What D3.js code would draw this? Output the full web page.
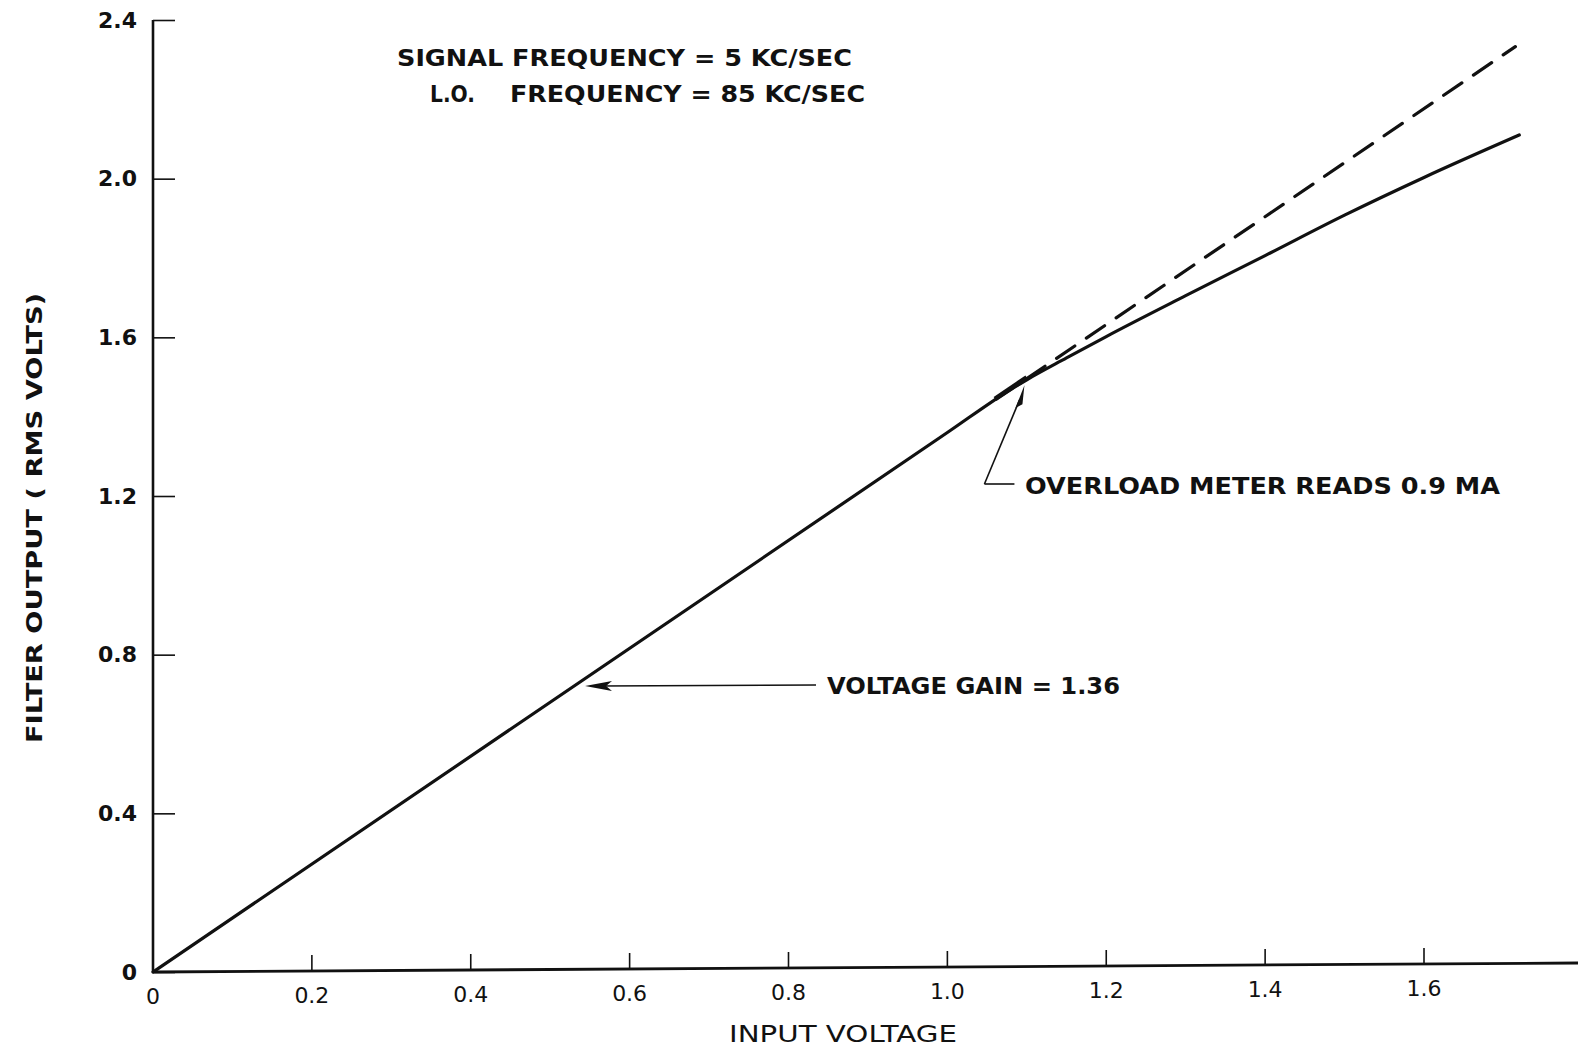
<!DOCTYPE html>
<html>
<head>
<meta charset="utf-8">
<script src="https://cdn.jsdelivr.net/npm/d3@7"></script>
<style>
	body { margin: 0; background: #fff; }
	svg { display: block; }
	text { font-family: "DejaVu Sans", sans-serif; fill: #111; }
</style>
</head>
<body>
<svg id="chart" width="1578" height="1049"></svg>
<script>
// tick values and their labels as printed on the sheet
var xTicks = [0, 0.2, 0.4, 0.6, 0.8, 1.0, 1.2, 1.4, 1.6];
var xTickLabels = ["0", "0.2", "0.4", "0.6", "0.8", "1.0", "1.2", "1.4", "1.6"];
var yTicks = [0, 0.4, 0.8, 1.2, 1.6, 2.0, 2.4];
var yTickLabels = ["0", "0.4", "0.8", "1.2", "1.6", "2.0", "2.4"];

// measured curve (input volts -> rms output volts)
var measuredX = [0, 1.0, 1.08, 1.1, 1.15, 1.2, 1.3, 1.4, 1.5, 1.6, 1.72];
var measuredY = [0, 1.36, 1.469, 1.493, 1.548, 1.602, 1.705, 1.806, 1.908, 2.003, 2.11];

// ideal gain line continuing past overload
var idealX = [1.1, 1.715];
var idealY = [1.496, 2.333];

var svg = d3.select("#chart");

var x = d3.scaleLinear().domain([0, 1.6]).range([153, 1424]);
var y = d3.scaleLinear().domain([0, 2.4]).range([972, 20]);

// the sheet is scanned a little crooked: bottom axis rises to the right
var tilt = 9 / (1578 - 153);

// y axis, ticks pointing inward
var yAxis = d3.axisLeft(y)
	.tickValues(yTicks)
	.tickFormat(function (d, i) { return yTickLabels[i]; })
	.tickSizeInner(-22)
	.tickSizeOuter(0)
	.tickPadding(16);

var gy = svg.append("g")
	.attr("transform", "translate(" + x(0) + ",0)")
	.call(yAxis);
gy.select(".domain").remove();
gy.selectAll(".tick line").style("stroke", "#111").style("stroke-width", 1.6);
gy.selectAll(".tick text")
	.style("font-size", "22px")
	.style("font-weight", "bold")
	.style("font-family", "DejaVu Sans, sans-serif");

// x axis, ticks pointing up
var xAxis = d3.axisBottom(x)
	.tickValues(xTicks)
	.tickFormat(function (d, i) { return xTickLabels[i]; })
	.tickSizeInner(-16)
	.tickSizeOuter(0)
	.tickPadding(16);

var gx = svg.append("g")
	.attr("transform", "translate(0," + y(0) + ")")
	.call(xAxis);
gx.select(".domain").remove();
gx.selectAll(".tick")
	.attr("transform", function (d) {
		return "translate(" + x(d) + "," + (-(x(d) - x(0)) * tilt) + ")";
	});
gx.selectAll(".tick line").style("stroke", "#111").style("stroke-width", 1.6);
gx.selectAll(".tick text")
	.style("font-size", "22px")
	.style("font-family", "DejaVu Sans, sans-serif");
gx.selectAll(".tick").filter(function (d) { return d === 0; }).select("line").remove();

// axis lines
svg.append("line")
	.attr("x1", x(0)).attr("y1", y(0))
	.attr("x2", x(0)).attr("y2", y(2.4))
	.style("stroke", "#111").style("stroke-width", 2.6);
svg.append("line")
	.attr("x1", x(0)).attr("y1", y(0))
	.attr("x2", 1578).attr("y2", y(0) - (1578 - x(0)) * tilt)
	.style("stroke", "#111").style("stroke-width", 2.8);

// curves
var line = d3.line()
	.x(function (d) { return x(d[0]); })
	.y(function (d) { return y(d[1]); })
	.curve(d3.curveMonotoneX);

svg.append("path")
	.datum(measuredX.map(function (v, i) { return [v, measuredY[i]]; }))
	.attr("d", line)
	.style("fill", "none")
	.style("stroke", "#111")
	.style("stroke-width", 3.2)
	.style("stroke-linecap", "round");

svg.append("path")
	.datum(idealX.map(function (v, i) { return [v, idealY[i]]; }))
	.attr("d", d3.line().x(function (d) { return x(d[0]); }).y(function (d) { return y(d[1]); }))
	.style("fill", "none")
	.style("stroke", "#111")
	.style("stroke-width", 3.2)
	.style("stroke-linecap", "round")
	.style("stroke-dasharray", "22,14");

// thick mark at the overload point
svg.append("line")
	.attr("x1", x(1.06)).attr("y1", y(1.442) - 1)
	.attr("x2", x(1.1)).attr("y2", y(1.496) - 1)
	.style("stroke", "#111").style("stroke-width", 5);

// overload annotation
var ox = x(1.097), oy = y(1.482);
svg.append("path")
	.attr("d", "M" + (ox - 40) + ",484 L" + (ox - 10) + ",484")
	.style("stroke", "#111").style("stroke-width", 1.6).style("fill", "none");
svg.append("path")
	.attr("d", "M" + (ox - 40) + ",484 L" + (ox - 5) + "," + (oy + 16))
	.style("stroke", "#111").style("stroke-width", 1.6).style("fill", "none");
svg.append("path")
	.attr("d", "M" + ox + "," + (oy + 1) + " L" + (ox - 9) + "," + (oy + 24) + " L" + (ox - 2) + "," + (oy + 20) + "Z")
	.style("fill", "#111");
svg.append("text")
	.attr("x", 1025).attr("y", 494)
	.attr("textLength", 475).attr("lengthAdjust", "spacingAndGlyphs")
	.style("font-size", "23px").style("font-weight", "bold")
	.text("OVERLOAD  METER READS  0.9 MA");

// voltage gain annotation
svg.append("line")
	.attr("x1", 600).attr("y1", 686)
	.attr("x2", 816).attr("y2", 685)
	.style("stroke", "#111").style("stroke-width", 1.5);
svg.append("path")
	.attr("d", "M585,686 L612,681 L606,686 L612,691 Z")
	.style("fill", "#111");
svg.append("text")
	.attr("x", 827).attr("y", 694)
	.attr("textLength", 293).attr("lengthAdjust", "spacingAndGlyphs")
	.style("font-size", "23px").style("font-weight", "bold")
	.text("VOLTAGE  GAIN = 1.36");

// header notes
svg.append("text")
	.attr("x", 397).attr("y", 66)
	.attr("textLength", 455).attr("lengthAdjust", "spacingAndGlyphs")
	.style("font-size", "23px").style("font-weight", "bold")
	.text("SIGNAL FREQUENCY = 5 KC/SEC");
svg.append("text")
	.attr("x", 430).attr("y", 102)
	.attr("textLength", 45).attr("lengthAdjust", "spacingAndGlyphs")
	.style("font-size", "23px").style("font-weight", "bold")
	.text("L.O.");
svg.append("text")
	.attr("x", 510).attr("y", 102)
	.attr("textLength", 355).attr("lengthAdjust", "spacingAndGlyphs")
	.style("font-size", "23px").style("font-weight", "bold")
	.text("FREQUENCY = 85 KC/SEC");

// axis titles
svg.append("text")
	.attr("x", 843).attr("y", 1042)
	.attr("text-anchor", "middle")
	.attr("textLength", 228).attr("lengthAdjust", "spacingAndGlyphs")
	.style("font-size", "23px")
	.text("INPUT  VOLTAGE");
svg.append("text")
	.attr("transform", "translate(42,518) rotate(-90)")
	.attr("text-anchor", "middle")
	.attr("textLength", 450).attr("lengthAdjust", "spacingAndGlyphs")
	.style("font-size", "22px").style("font-weight", "bold")
	.text("FILTER  OUTPUT  ( RMS  VOLTS)");
</script>
</body>
</html>
